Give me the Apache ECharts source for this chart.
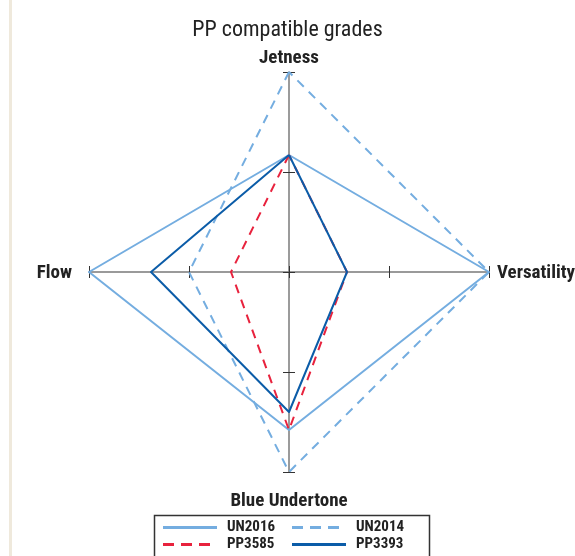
<!DOCTYPE html>
<html>
<head>
<meta charset="utf-8">
<script src="https://cdn.jsdelivr.net/npm/echarts@6/dist/echarts.min.js"></script>
<style>
html,body{margin:0;padding:0;background:#fff;}
#chart{width:575px;height:556px;}
</style>
</head>
<body>
<div id="chart"></div>
<script>
// Data
const indicators = ['Jetness', 'Flow', 'Blue Undertone', 'Versatility'];
const axisMax = 2;
const seriesNames = ['UN2016', 'UN2014', 'PP3585', 'PP3393'];
const UN2016 = [1.17, 2, 1.58, 2];
const UN2014 = [2, 1, 2, 2];
const PP3585 = [1.17, 0.58, 1.58, 0.58];
const PP3393 = [1.17, 1.38, 1.40, 0.58];
const titleText = 'PP compatible grades';

const values = [UN2016, UN2014, PP3585, PP3393];
const colors = ['#74ade0', '#74ade0', '#e8223d', '#0b5ca8'];
const dashed = [false, true, true, false];
const FONT = '"Liberation Sans Narrow", "Arial Narrow", "Roboto Condensed", Roboto, sans-serif';

const chart = echarts.init(document.getElementById('chart'), null, {renderer: 'canvas'});

const indicatorDefs = indicators.map(n => ({name: n, max: axisMax, min: 0}));

const solidPath = 'path://M0,0h54v3h-54z';
const dashPath = 'path://M0,0h11v3h-11z M18,0h11v3h-11z M36,0h11v3h-11z';

function legendAt(i, left, top, width) {
  return {
    data: [seriesNames[i]],
    left: left, top: top,
    orient: 'horizontal',
    icon: dashed[i] ? dashPath : solidPath,
    itemWidth: width, itemHeight: 3,
    selectedMode: false,
    padding: 0,
    textStyle: {fontFamily: FONT, fontWeight: 'bold', fontSize: 15, color: '#222', padding: [0, 0, 0, dashed[i] ? 12 : 5]},
    itemStyle: {color: colors[i]}
  };
}

const nameStyle = {fontFamily: FONT, fontWeight: 'bold', fontSize: 19, color: '#222'};

const option = {
  backgroundColor: '#fff',
  animation: false,
  title: {
    text: titleText, left: 'center', top: 14,
    textStyle: {fontFamily: FONT, fontWeight: 'normal', fontSize: 22, color: '#222'}
  },
  legend: [
    legendAt(0, 163, 520, 54),
    legendAt(1, 292, 520, 47),
    legendAt(2, 163, 537, 47),
    legendAt(3, 292, 537, 54)
  ],
  radar: [
    {
      center: [289, 272], radius: 200, startAngle: 90,
      splitNumber: 2, shape: 'polygon',
      indicator: indicatorDefs,
      axisName: {
        fontFamily: FONT, fontWeight: 'bold', fontSize: 19, color: '#222',
        formatter: function (v) {
          if (v === 'Flow') return '{f|' + v + '}';
          if (v === 'Blue Undertone') return '{b|' + v + '}';
          if (v === 'Versatility') return '{v|' + v + '}';
          return '{n|' + v + '}';
        },
        rich: {
          n: Object.assign({}, nameStyle),
          f: Object.assign({padding: [2, 13, 0, 0]}, nameStyle),
          v: Object.assign({padding: [2, 0, 0, 4]}, nameStyle),
          b: Object.assign({padding: [16, 0, 0, 0]}, nameStyle)
        }
      },
      nameGap: 4,
      axisLine: {show: true, lineStyle: {color: '#7a7a7a', width: 1.5}},
      axisTick: {show: true, length: 6, lineStyle: {color: '#333', width: 1}},
      splitLine: {show: false},
      splitArea: {show: false}
    },
    {
      center: [289, 272], radius: 200, startAngle: 90,
      splitNumber: 2, shape: 'polygon',
      indicator: indicatorDefs,
      axisName: {show: false},
      axisLine: {show: false},
      axisTick: {show: true, length: -6, lineStyle: {color: '#333', width: 1}},
      splitLine: {show: false},
      splitArea: {show: false}
    }
  ],
  graphic: [
    {type: 'rect', left: 9, top: 0, shape: {width: 3, height: 556}, style: {fill: '#efe9dc'}, silent: true},
    {type: 'rect', left: 152, top: 513, shape: {width: 275, height: 50}, style: {fill: 'none', stroke: '#333', lineWidth: 1.5}, silent: true}
  ],
  series: seriesNames.map((name, i) => ({
    type: 'radar',
    radarIndex: 0,
    name: name,
    symbol: 'none',
    z: 2 + i,
    lineStyle: {color: colors[i], width: 2, type: dashed[i] ? [9, 7] : 'solid'},
    itemStyle: {color: colors[i]},
    data: [{name: name, value: values[i]}]
  }))
};

chart.setOption(option);
</script>
</body>
</html>
